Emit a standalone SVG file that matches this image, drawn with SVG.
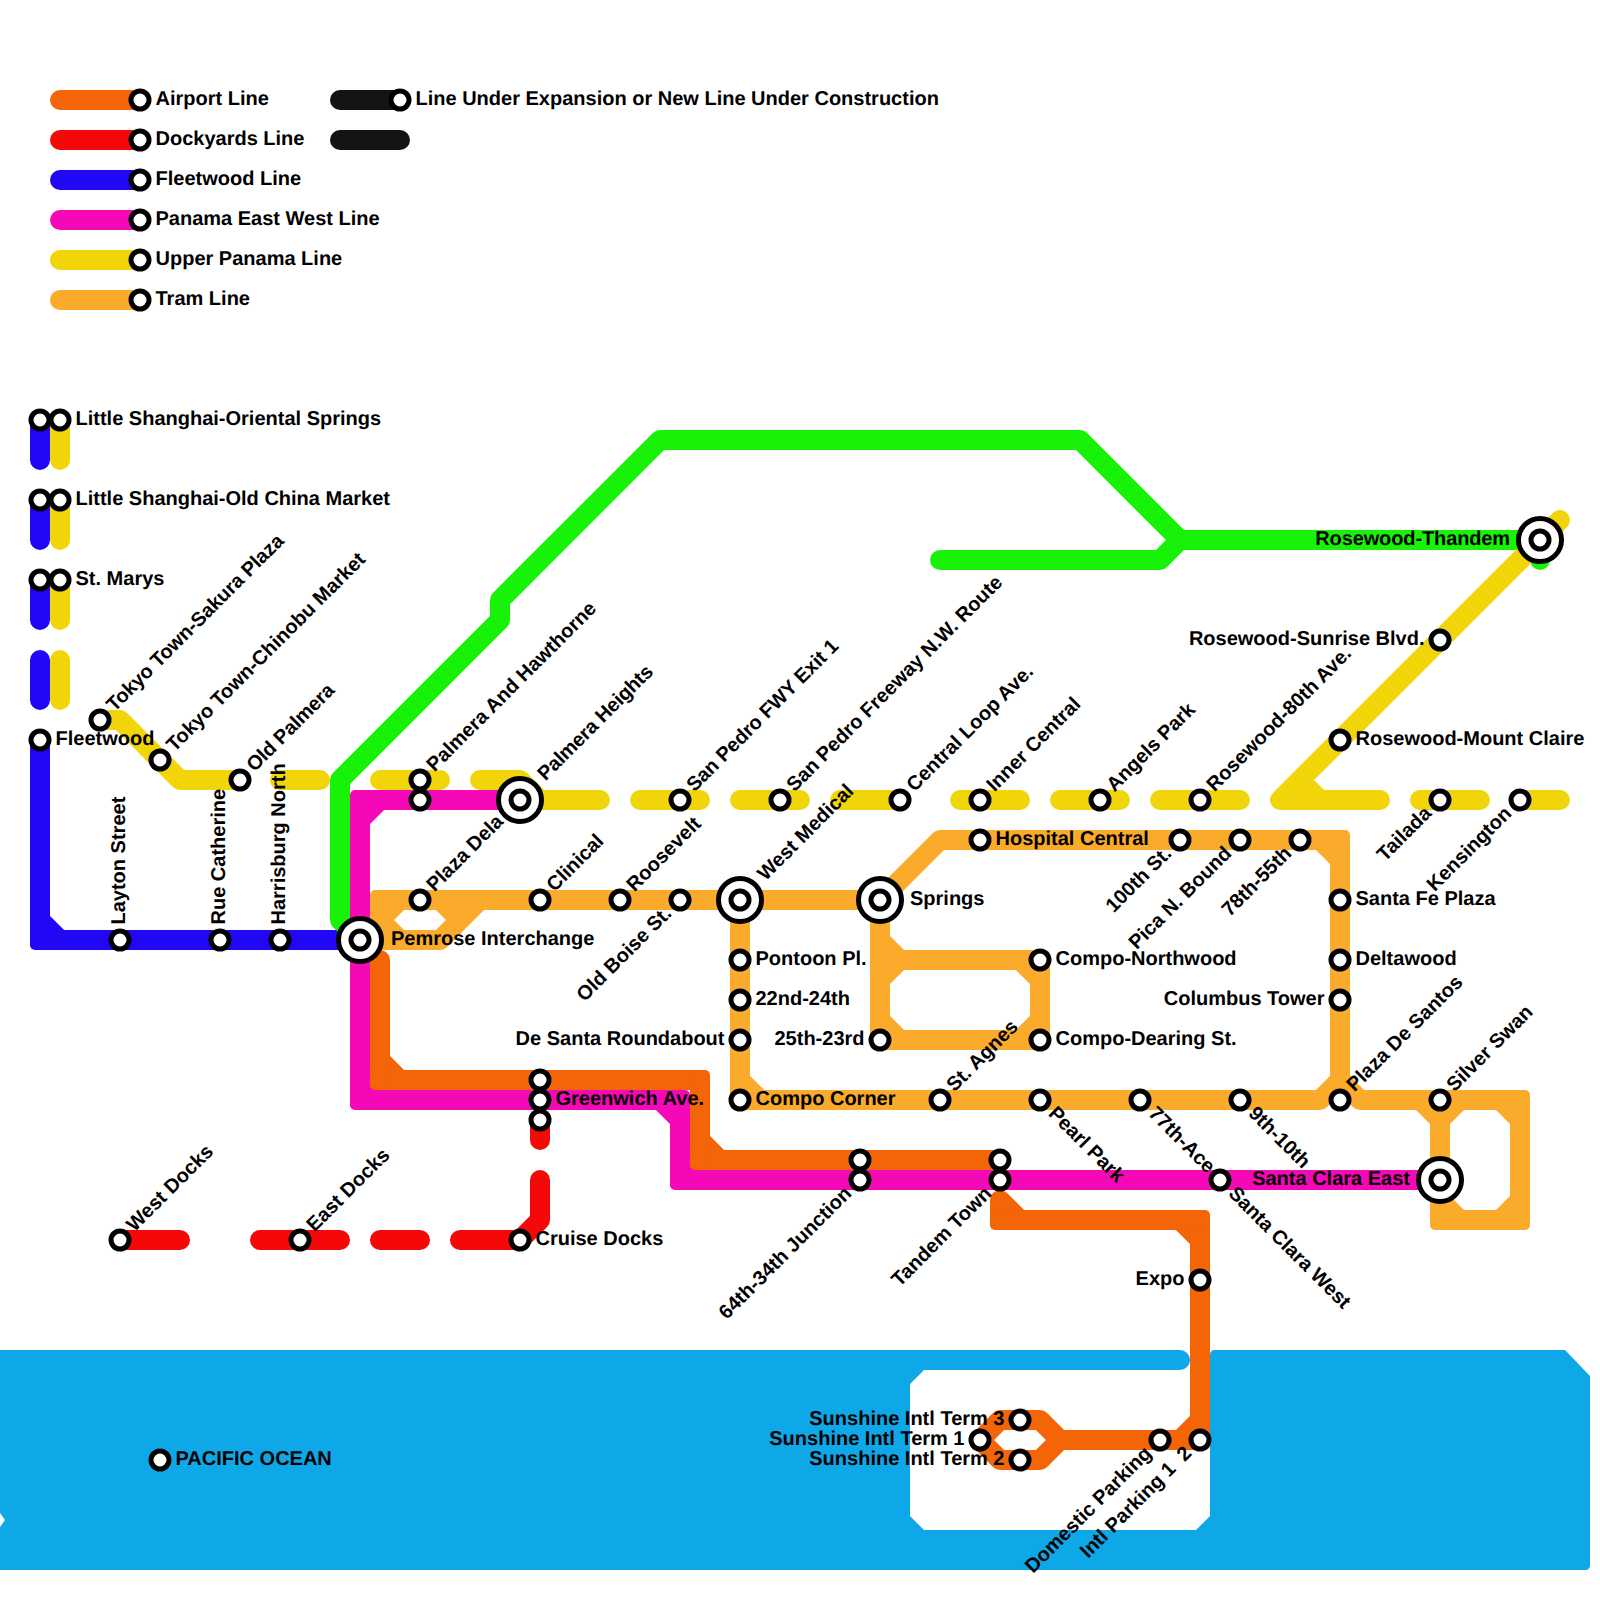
<svg xmlns="http://www.w3.org/2000/svg" width="1600" height="1600" viewBox="0 0 1600 1600">
<style>
.l{fill:none;stroke-width:20;stroke-linecap:round;stroke-linejoin:round}
.or{stroke:#f36507}.re{stroke:#f50808}.bl{stroke:#2008f5}.ma{stroke:#f508b5}.ye{stroke:#f2d508}.tr{stroke:#fbab2b}.gr{stroke:#18f208}.bk{stroke:#141414}
.forf{fill:#f36507}.fbl{fill:#2008f5}.fma{fill:#f508b5}.ftr{fill:#fbab2b}
circle{fill:#fff;stroke:#000;stroke-width:5}
text{font-family:"Liberation Sans",Arial,sans-serif;font-weight:700;font-size:20px;fill:#000;text-rendering:geometricPrecision}
.e{text-anchor:end}
.t1{letter-spacing:-.12px}.t2{letter-spacing:-.2px}
</style>
<defs><rect id="k" x="-10" y="-10" width="20" height="20" rx="5"/></defs>
<rect width="1600" height="1600" fill="#fff"/>
<path id="water" fill="#0ea7e8" d="M0 1350H1180A10 10 0 0 1 1180 1370H924L910 1384V1516L924 1530H1196L1210 1516V1355Q1210 1350 1215 1350H1565L1590 1376V1565Q1590 1570 1585 1570H0V1527L5 1520L0 1513Z"/>
<g id="connectors">
<g id="legend-lines">
<path class="l or" d="M60 100H140"/><path class="l re" d="M60 140H140"/><path class="l bl" d="M60 180H140"/><path class="l ma" d="M60 220H140"/><path class="l ye" d="M60 260H140"/><path class="l tr" d="M60 300H140"/><path class="l bk" d="M340 100H400M340 140H400"/>
</g>
<g id="fleetwood-line">
<path class="l bl" d="M40 420V460M40 500V540M40 580V620M40 660V700M40 740V920L60 940H360M40 920V940H60"/>
<use href="#k" x="40" y="940" class="fbl"/>
</g>
<g id="dockyards-line">
<path class="l re" d="M540 1120V1140M540 1180V1220L520 1240H460M420 1240H380M340 1240H260M180 1240H120"/>
</g>
<g id="green-line">
<path class="l gr" d="M360 940L340 920V780L500 620V600L660 440H1080L1180 540H1540V560M1180 540L1160 560H940"/>
</g>
<g id="upper-panama-line">
<path class="l ye" d="M60 420V460M60 500V540M60 580V620M60 660V700M100 720H120L180 780H240M280 780H320M380 780H440M480 780H520L540 800H600M640 800H700M740 800H800M840 800H900M960 800H1020M1060 800H1120M1160 800H1240M1560 520L1280 800H1380M1300 780L1320 800M1420 800H1480M1520 800H1560"/>
</g>
<g id="panama-east-west-line">
<path class="l ma" d="M520 800H380L360 820V1080L380 1100H660L680 1120V1160L700 1180H1440M380 800H360V820M360 1080V1100H380M660 1100H680V1120M680 1160V1180H700"/>
<use href="#k" x="360" y="800" class="fma"/><use href="#k" x="360" y="1100" class="fma"/><use href="#k" x="680" y="1100" class="fma"/><use href="#k" x="680" y="1180" class="fma"/>
</g>
<g id="tram-line">
<path class="l tr" d="M380 900H880M380 900V940H440L480 900M380 920L400 900M380 920L400 940M440 900L460 920M880 900L940 840H1320L1340 860V1080L1320 1100H760L740 1080V900M1340 1080L1360 1100H1500L1520 1120V1200L1500 1220H1460L1440 1200V1120L1420 1100M1440 1120L1460 1100M880 900V1020L900 1040H1020L1040 1020V980L1020 960H900L880 940M880 980L900 960M1320 840H1340V860M1500 1100H1520V1120M1520 1200V1220H1500M1460 1220H1440V1200M1020 960H1040V980M1040 1020V1040H1020M880 1020V1040H900M740 1080V1100H760"/>
<use href="#k" x="380" y="900" class="ftr"/><use href="#k" x="380" y="940" class="ftr"/><use href="#k" x="1340" y="840" class="ftr"/><use href="#k" x="1520" y="1100" class="ftr"/><use href="#k" x="1520" y="1220" class="ftr"/><use href="#k" x="1440" y="1220" class="ftr"/><use href="#k" x="1040" y="960" class="ftr"/><use href="#k" x="1040" y="1040" class="ftr"/><use href="#k" x="880" y="1040" class="ftr"/><use href="#k" x="740" y="1100" class="ftr"/>
</g>
<g id="airport-line">
<path class="l or" d="M380 960V1060L400 1080H700V1140L720 1160H1000M1000 1200L1020 1220H1180L1200 1240V1420L1180 1440H1060L1040 1420H1000L980 1440L1000 1460H1040L1060 1440M1200 1420V1440H1180M380 1060V1080H400M700 1140V1160H720M1000 1200V1220H1020M1180 1220H1200V1240"/>
<use href="#k" x="380" y="1080" class="forf"/><use href="#k" x="700" y="1080" class="forf"/><use href="#k" x="700" y="1160" class="forf"/><use href="#k" x="1000" y="1220" class="forf"/><use href="#k" x="1200" y="1220" class="forf"/><use href="#k" x="1200" y="1440" class="forf"/>
</g>
</g>
<g id="legend-airport"><circle cx="140" cy="100" r="9"/><text x="155.5" y="105">Airport Line</text></g>
<g id="legend-dockyards"><circle cx="140" cy="140" r="9"/><text x="155.5" y="145">Dockyards Line</text></g>
<g id="legend-fleetwood"><circle cx="140" cy="180" r="9"/><text x="155.5" y="185">Fleetwood Line</text></g>
<g id="legend-panama"><circle cx="140" cy="220" r="9"/><text x="155.5" y="225">Panama East West Line</text></g>
<g id="legend-upper"><circle cx="140" cy="260" r="9"/><text x="155.5" y="265">Upper Panama Line</text></g>
<g id="legend-tram"><circle cx="140" cy="300" r="9"/><text x="155.5" y="305">Tram Line</text></g>
<g id="legend-expansion"><circle cx="400" cy="100" r="9"/><text x="415.5" y="105">Line Under Expansion or New Line Under Construction</text></g>

<g id="little-shanghai-oriental"><circle cx="40" cy="420" r="9"/><circle cx="60" cy="420" r="9"/><text x="75.5" y="425">Little Shanghai-Oriental Springs</text></g>
<g id="little-shanghai-old-china"><circle cx="40" cy="500" r="9"/><circle cx="60" cy="500" r="9"/><text x="75.5" y="505">Little Shanghai-Old China Market</text></g>
<g id="st-marys"><circle cx="40" cy="580" r="9"/><circle cx="60" cy="580" r="9"/><text x="75.5" y="585">St. Marys</text></g>
<g id="fleetwood"><circle cx="40" cy="740" r="9"/><text x="55.5" y="745">Fleetwood</text></g>
<g id="tokyo-sakura"><circle cx="100" cy="720" r="9"/><text class="t1" x="115.5" y="725" transform="rotate(-45 100 720)">Tokyo Town-Sakura Plaza</text></g>
<g id="tokyo-chinobu"><circle cx="160" cy="760" r="9"/><text x="175.5" y="765" transform="rotate(-45 160 760)">Tokyo Town-Chinobu Market</text></g>
<g id="old-palmera"><circle cx="240" cy="780" r="9"/><text class="t2" x="255.5" y="785" transform="rotate(-45 240 780)">Old Palmera</text></g>
<g id="layton-street"><circle cx="120" cy="940" r="9"/><text x="135.5" y="945" transform="rotate(-90 120 940)">Layton Street</text></g>
<g id="rue-catherine"><circle cx="220" cy="940" r="9"/><text x="235.5" y="945" transform="rotate(-90 220 940)">Rue Catherine</text></g>
<g id="harrisburg-north"><circle cx="280" cy="940" r="9"/><text x="295.5" y="945" transform="rotate(-90 280 940)">Harrisburg North</text></g>
<g id="pemrose"><circle cx="360" cy="940" r="21.5"/><circle cx="360" cy="940" r="9"/><text x="391" y="945">Pemrose Interchange</text></g>
<g id="palmera-hawthorne"><circle cx="420" cy="780" r="9"/><text x="435.5" y="785" transform="rotate(-45 420 780)">Palmera And Hawthorne</text></g>
<g id="palmera-lower"><circle cx="420" cy="800" r="9"/></g>
<g id="plaza-dela"><circle cx="420" cy="900" r="9"/><text x="435.5" y="905" transform="rotate(-45 420 900)">Plaza Dela</text></g>
<g id="palmera-heights"><circle cx="520" cy="800" r="21.5"/><circle cx="520" cy="800" r="9"/><text class="t2" x="551" y="805" transform="rotate(-45 520 800)">Palmera Heights</text></g>
<g id="clinical"><circle cx="540" cy="900" r="9"/><text x="555.5" y="905" transform="rotate(-45 540 900)">Clinical</text></g>
<g id="roosevelt"><circle cx="620" cy="900" r="9"/><text x="635.5" y="905" transform="rotate(-45 620 900)">Roosevelt</text></g>
<g id="old-boise"><circle cx="680" cy="900" r="9"/><text class="e" x="664.5" y="905" transform="rotate(-45 680 900)">Old Boise St.</text></g>
<g id="san-pedro-fwy"><circle cx="680" cy="800" r="9"/><text class="t1" x="695.5" y="805" transform="rotate(-45 680 800)">San Pedro FWY Exit 1</text></g>
<g id="san-pedro-freeway"><circle cx="780" cy="800" r="9"/><text x="795.5" y="805" transform="rotate(-45 780 800)">San Pedro Freeway N.W. Route</text></g>
<g id="central-loop"><circle cx="900" cy="800" r="9"/><text x="915.5" y="805" transform="rotate(-45 900 800)">Central Loop Ave.</text></g>
<g id="inner-central"><circle cx="980" cy="800" r="9"/><text x="995.5" y="805" transform="rotate(-45 980 800)">Inner Central</text></g>
<g id="angels-park"><circle cx="1100" cy="800" r="9"/><text x="1115.5" y="805" transform="rotate(-45 1100 800)">Angels Park</text></g>
<g id="rosewood-80th"><circle cx="1200" cy="800" r="9"/><text x="1215.5" y="805" transform="rotate(-45 1200 800)">Rosewood-80th Ave.</text></g>
<g id="west-medical"><circle cx="740" cy="900" r="21.5"/><circle cx="740" cy="900" r="9"/><text x="771" y="905" transform="rotate(-45 740 900)">West Medical</text></g>
<g id="springs"><circle cx="880" cy="900" r="21.5"/><circle cx="880" cy="900" r="9"/><text x="910" y="905">Springs</text></g>
<g id="hospital-central"><circle cx="980" cy="840" r="9"/><text x="995.5" y="845">Hospital Central</text></g>
<g id="100th"><circle cx="1180" cy="840" r="9"/><text class="e" x="1164.5" y="845" transform="rotate(-45 1180 840)">100th St.</text></g>
<g id="pica"><circle cx="1240" cy="840" r="9"/><text class="e" x="1224.5" y="845" transform="rotate(-45 1240 840)">Pica N. Bound</text></g>
<g id="78th"><circle cx="1300" cy="840" r="9"/><text class="e" x="1284.5" y="845" transform="rotate(-45 1300 840)">78th-55th</text></g>
<g id="tailada"><circle cx="1440" cy="800" r="9"/><text class="e" x="1424.5" y="805" transform="rotate(-45 1440 800)">Tailada</text></g>
<g id="kensington"><circle cx="1520" cy="800" r="9"/><text class="e" x="1504.5" y="805" transform="rotate(-45 1520 800)">Kensington</text></g>
<g id="rosewood-thandem"><circle cx="1540" cy="540" r="21.5"/><circle cx="1540" cy="540" r="9"/><text class="e t1" x="1510" y="545">Rosewood-Thandem</text></g>
<g id="rosewood-sunrise"><circle cx="1440" cy="640" r="9"/><text class="e" x="1424.5" y="645">Rosewood-Sunrise Blvd.</text></g>
<g id="rosewood-mount"><circle cx="1340" cy="740" r="9"/><text x="1355.5" y="745">Rosewood-Mount Claire</text></g>
<g id="santa-fe"><circle cx="1340" cy="900" r="9"/><text x="1355.5" y="905">Santa Fe Plaza</text></g>
<g id="deltawood"><circle cx="1340" cy="960" r="9"/><text x="1355.5" y="965">Deltawood</text></g>
<g id="columbus"><circle cx="1340" cy="1000" r="9"/><text class="e" x="1324.5" y="1005">Columbus Tower</text></g>
<g id="plaza-de-santos"><circle cx="1340" cy="1100" r="9"/><text x="1355.5" y="1105" transform="rotate(-45 1340 1100)">Plaza De Santos</text></g>
<g id="silver-swan"><circle cx="1440" cy="1100" r="9"/><text x="1455.5" y="1105" transform="rotate(-45 1440 1100)">Silver Swan</text></g>
<g id="pontoon"><circle cx="740" cy="960" r="9"/><text x="755.5" y="965">Pontoon Pl.</text></g>
<g id="22nd"><circle cx="740" cy="1000" r="9"/><text x="755.5" y="1005">22nd-24th</text></g>
<g id="de-santa"><circle cx="740" cy="1040" r="9"/><text class="e" x="724.5" y="1045">De Santa Roundabout</text></g>
<g id="compo-corner"><circle cx="740" cy="1100" r="9"/><text x="755.5" y="1105">Compo Corner</text></g>
<g id="25th"><circle cx="880" cy="1040" r="9"/><text class="e" x="864.5" y="1045">25th-23rd</text></g>
<g id="compo-northwood"><circle cx="1040" cy="960" r="9"/><text x="1055.5" y="965">Compo-Northwood</text></g>
<g id="compo-dearing"><circle cx="1040" cy="1040" r="9"/><text x="1055.5" y="1045">Compo-Dearing St.</text></g>
<g id="st-agnes"><circle cx="940" cy="1100" r="9"/><text x="955.5" y="1105" transform="rotate(-45 940 1100)">St. Agnes</text></g>
<g id="pearl-park"><circle cx="1040" cy="1100" r="9"/><text x="1055.5" y="1105" transform="rotate(45 1040 1100)">Pearl Park</text></g>
<g id="77th"><circle cx="1140" cy="1100" r="9"/><text x="1155.5" y="1105" transform="rotate(45 1140 1100)">77th-Ace</text></g>
<g id="9th"><circle cx="1240" cy="1100" r="9"/><text x="1255.5" y="1105" transform="rotate(45 1240 1100)">9th-10th</text></g>
<g id="greenwich-top"><circle cx="540" cy="1080" r="9"/></g>
<g id="greenwich"><circle cx="540" cy="1100" r="9"/><text x="555.5" y="1105">Greenwich Ave.</text></g>
<g id="greenwich-bottom"><circle cx="540" cy="1120" r="9"/></g>
<g id="junction-top"><circle cx="860" cy="1160" r="9"/></g>
<g id="junction"><circle cx="860" cy="1180" r="9"/><text class="e" x="844.5" y="1185" transform="rotate(-45 860 1180)">64th-34th Junction</text></g>
<g id="tandem-top"><circle cx="1000" cy="1160" r="9"/></g>
<g id="tandem"><circle cx="1000" cy="1180" r="9"/><text class="e" x="984.5" y="1185" transform="rotate(-45 1000 1180)">Tandem Town</text></g>
<g id="santa-clara-west"><circle cx="1220" cy="1180" r="9"/><text x="1235.5" y="1185" transform="rotate(45 1220 1180)">Santa Clara West</text></g>
<g id="santa-clara-east"><circle cx="1440" cy="1180" r="21.5"/><circle cx="1440" cy="1180" r="9"/><text class="e" x="1410" y="1185">Santa Clara East</text></g>
<g id="west-docks"><circle cx="120" cy="1240" r="9"/><text x="135.5" y="1245" transform="rotate(-45 120 1240)">West Docks</text></g>
<g id="east-docks"><circle cx="300" cy="1240" r="9"/><text x="315.5" y="1245" transform="rotate(-45 300 1240)">East Docks</text></g>
<g id="cruise-docks"><circle cx="520" cy="1240" r="9"/><text x="535.5" y="1245">Cruise Docks</text></g>
<g id="expo"><circle cx="1200" cy="1280" r="9"/><text class="e" x="1184.5" y="1285">Expo</text></g>
<g id="pacific"><circle cx="160" cy="1460" r="9"/><text x="175.5" y="1465">PACIFIC OCEAN</text></g>
<g id="term3"><circle cx="1020" cy="1420" r="9"/><text class="e" x="1004.5" y="1425">Sunshine Intl Term 3</text></g>
<g id="term1"><circle cx="980" cy="1440" r="9"/><text class="e" x="964.5" y="1445">Sunshine Intl Term 1</text></g>
<g id="term2"><circle cx="1020" cy="1460" r="9"/><text class="e" x="1004.5" y="1465">Sunshine Intl Term 2</text></g>
<g id="domestic"><circle cx="1160" cy="1440" r="9"/><text class="e" x="1144.5" y="1445" transform="rotate(-45 1160 1440)">Domestic Parking</text></g>
<g id="intl-parking"><circle cx="1200" cy="1440" r="9"/><text class="e" x="1184.5" y="1445" transform="rotate(-45 1200 1440)">Intl Parking 1&#160;&#160;2</text></g>
</svg>
